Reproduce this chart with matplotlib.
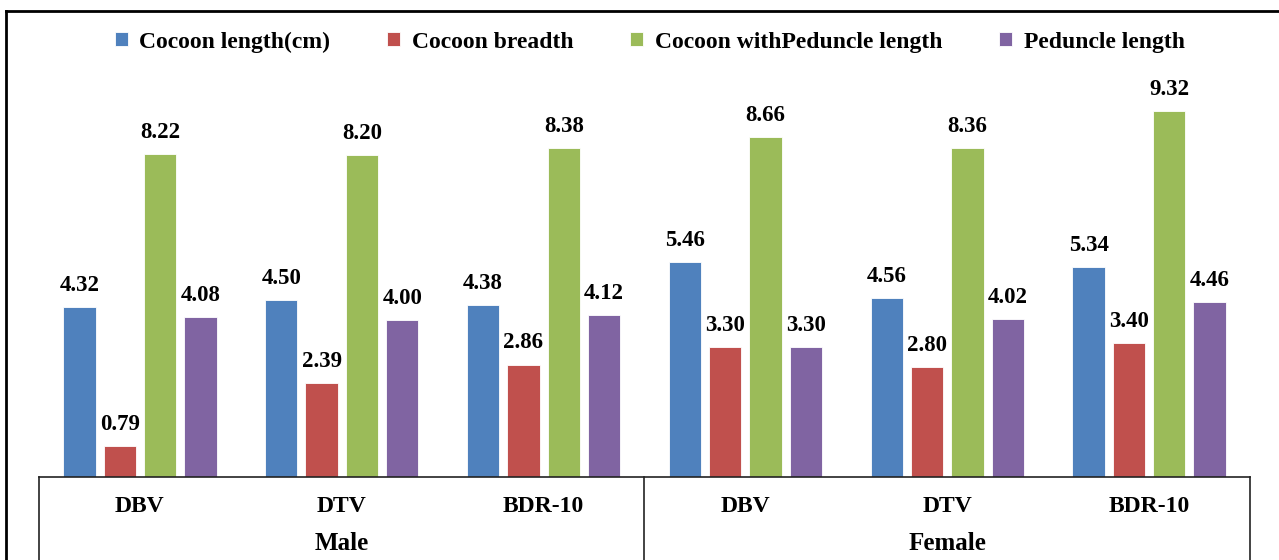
import numpy as np
import matplotlib.pyplot as plt
from matplotlib.lines import Line2D
from matplotlib.transforms import blended_transform_factory

# data
groups = ['Male', 'Female']
varieties = ['DBV', 'DTV', 'BDR-10', 'DBV', 'DTV', 'BDR-10']
series_names = ['Cocoon length(cm)', 'Cocoon breadth',
                'Cocoon withPeduncle length', 'Peduncle length']
cocoon_length = [4.32, 4.50, 4.38, 5.46, 4.56, 5.34]
cocoon_breadth = [0.79, 2.39, 2.86, 3.30, 2.80, 3.40]
cocoon_with_peduncle = [8.22, 8.20, 8.38, 8.66, 8.36, 9.32]
peduncle_length = [4.08, 4.00, 4.12, 3.30, 4.02, 4.46]

colors = ['#4F81BD', '#C0504D', '#9BBB59', '#8064A2']
plt.rcParams['font.family'] = ['Liberation Serif', 'DejaVu Serif']
plt.rcParams['font.weight'] = 'bold'

fig = plt.figure(figsize=(12.79, 5.6), dpi=100)
ax = fig.add_axes([39/1279, 83/560, (1250-39)/1279, 393/560])

x = np.arange(len(varieties))
step = 0.2
width = 0.16
all_series = [cocoon_length, cocoon_breadth, cocoon_with_peduncle, peduncle_length]
handles = []
for i, vals in enumerate(all_series):
    pos = x + (i - 1.5) * step
    bars = ax.bar(pos, vals, width, color=colors[i], label=series_names[i],
                  edgecolor='white', linewidth=0.6)
    handles.append(bars)
    for xp, v in zip(pos, vals):
        ax.annotate(f'{v:.2f}', (xp, v), xytext=(0, 8), textcoords='offset points',
                    ha='center', va='bottom', fontsize=16.5, fontweight='bold')

ax.set_xlim(-0.5, 5.5)
ax.set_ylim(0, 10)
for s in ['top', 'right', 'left']:
    ax.spines[s].set_visible(False)
ax.spines['bottom'].set_linewidth(1.2)
ax.spines['bottom'].set_color('#222222')
ax.set_yticks([])
ax.set_xticks(x)
ax.set_xticklabels(varieties, fontsize=17, fontweight='bold')
ax.tick_params(axis='x', length=0, pad=14)

trans = blended_transform_factory(ax.transData, ax.transAxes)
for xv in [-0.5, 2.5, 5.5]:
    ax.plot([xv, xv], [0, -0.25], color='#222222', lw=1.2, transform=trans, clip_on=False)
for gi, g in enumerate(groups):
    ax.text(1 + gi * 3, -0.168, g, transform=trans, ha='center', va='center',
            fontsize=18, fontweight='bold')

fig.legend(handles=handles, loc='center', bbox_to_anchor=(0.508, 0.925), ncol=4,
           frameon=False, handlelength=0.55, handleheight=0.55,
           handletextpad=0.5, columnspacing=2.4, prop={'weight': 'bold', 'size': 17})

# outer chart border (left and top edges)
fig.add_artist(Line2D([6/1279, 6/1279], [0, 1 - 11/560], color='black', lw=2))
fig.add_artist(Line2D([6/1279, 1], [1 - 11/560, 1 - 11/560], color='black', lw=2))

fig.savefig('out.png', dpi=100)
